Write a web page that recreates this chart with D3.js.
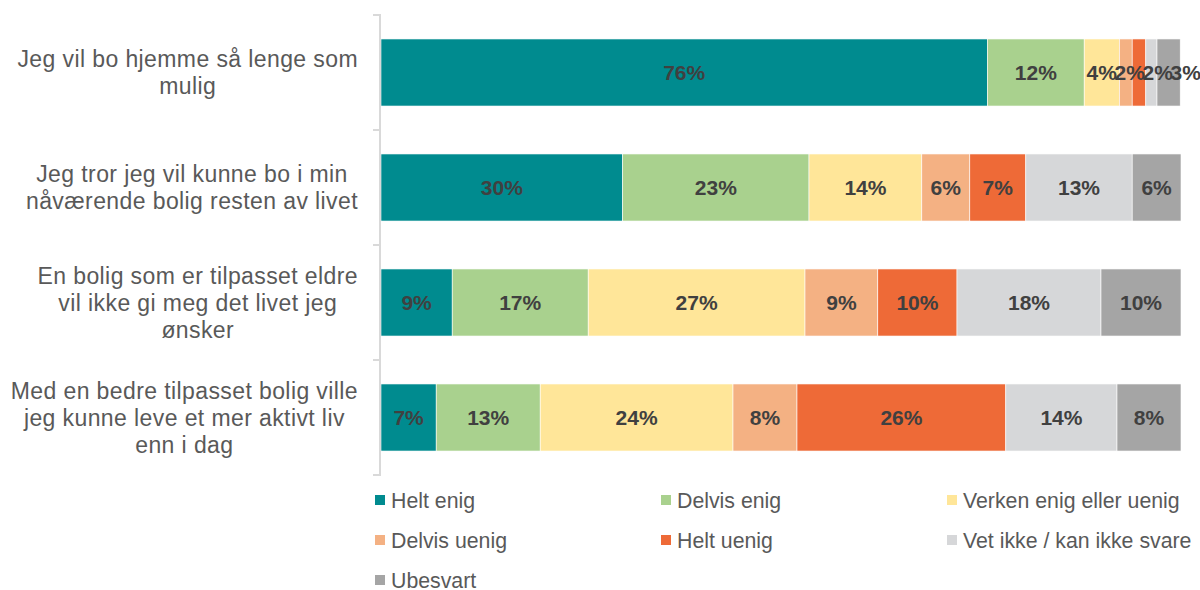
<!DOCTYPE html>
<html>
<head>
<meta charset="utf-8">
<script src="https://cdn.jsdelivr.net/npm/d3@7"></script>
<style>
  body { margin: 0; background: #fff; }
  text { font-family: "Liberation Sans", Arial, sans-serif; }
</style>
</head>
<body>
<div id="root"></div>
<script>
// categories (top to bottom), line breaks as in the source chart
var categories = [
  "Jeg vil bo hjemme så lenge som\nmulig",
  "Jeg tror jeg vil kunne bo i min\nnåværende bolig resten av livet",
  "En bolig som er tilpasset eldre\nvil ikke gi meg det livet jeg\nønsker",
  "Med en bedre tilpasset bolig ville\njeg kunne leve et mer aktivt liv\nenn i dag"
];

var seriesNames = ["Helt enig", "Delvis enig", "Verken enig eller uenig", "Delvis uenig",
  "Helt uenig", "Vet ikke / kan ikke svare", "Ubesvart"];

var seriesColors = ["#008B8F", "#A9D18E", "#FFE699", "#F4B183", "#EE6A37", "#D6D7D9", "#A5A5A5"];

// percent per category, one array per series
var heltEnig    = [75.8, 30.2, 8.9, 6.9];
var delvisEnig  = [12.1, 23.3, 17.0, 13.0];
var verken      = [4.4, 14.1, 27.1, 24.1];
var delvisUenig = [1.6, 6.0, 9.1, 8.0];
var heltUenig   = [1.7, 7.0, 9.9, 26.1];
var vetIkke     = [1.4, 13.3, 18.0, 13.9];
var ubesvart    = [2.9, 6.1, 10.0, 8.0];

var seriesValues = [heltEnig, delvisEnig, verken, delvisUenig, heltUenig, vetIkke, ubesvart];

var width = 1200, height = 590;
var x0 = 381, x1 = 1181, yTop = 15, yBottom = 475;

var svg = d3.select("#root").append("svg")
  .attr("width", width)
  .attr("height", height);

var x = d3.scaleLinear().domain([0, 100]).range([x0, x1]);

var y = d3.scaleBand()
  .domain(categories)
  .range([yTop, yBottom])
  .paddingInner(0.417)
  .paddingOuter(0.2085);

// build stacked table
var table = categories.map(function(c, i) {
  var row = { key: c };
  seriesNames.forEach(function(s, j) { row[s] = seriesValues[j][i]; });
  return row;
});
var stacked = d3.stack().keys(seriesNames)(table);

var layers = svg.selectAll(".layer")
  .data(stacked)
  .enter()
  .append("g")
  .attr("class", "layer")
  .attr("fill", function(d, i) { return seriesColors[i]; });

layers.selectAll("rect")
  .data(function(d) { return d; })
  .enter()
  .append("rect")
  .attr("x", function(d) { return x(d[0]); })
  .attr("y", function(d) { return y(d.data.key); })
  .attr("width", function(d) { return x(d[1]) - x(d[0]); })
  .attr("height", y.bandwidth())
  .attr("stroke", "#fff")
  .attr("stroke-width", 0.6);

// value labels, small ones (<1.5) hidden, pushed apart when crowded
var labelW = 28;
categories.forEach(function(c, i) {
  var items = [];
  stacked.forEach(function(layer) {
    var d = layer[i];
    var v = d[1] - d[0];
    if (v >= 1.5) items.push({ cx: (x(d[0]) + x(d[1])) / 2, text: Math.round(v) + "%" });
  });
  var prev = -Infinity;
  items.forEach(function(it) {
    it.cx = Math.max(it.cx, prev + labelW);
    prev = it.cx;
  });
  svg.selectAll(null)
    .data(items)
    .enter()
    .append("text")
    .attr("x", function(d) { return d.cx; })
    .attr("y", y(c) + y.bandwidth() / 2)
    .attr("dy", "0.36em")
    .attr("text-anchor", "middle")
    .attr("font-size", "21px")
    .attr("font-weight", "bold")
    .attr("fill", "#404040")
    .text(function(d) { return d.text; });
});

// axis line with ticks on the left
svg.append("line")
  .attr("x1", 380).attr("x2", 380)
  .attr("y1", yTop).attr("y2", yBottom)
  .attr("stroke", "#D9D9D9")
  .attr("stroke-width", 2);

var tickYs = categories.map(function(c) { return y(c) - y.step() * y.paddingInner() / 2; });
tickYs.push(yBottom);
svg.selectAll(".tick")
  .data(tickYs)
  .enter()
  .append("line")
  .attr("class", "tick")
  .attr("x1", 373).attr("x2", 381)
  .attr("y1", function(d) { return d; })
  .attr("y2", function(d) { return d; })
  .attr("stroke", "#D9D9D9")
  .attr("stroke-width", 2);

// category labels, lines centred inside a block that is right-aligned to the axis
var lh = 27;
categories.forEach(function(c) {
  var g = svg.append("g");
  var lines = c.split("\n");
  var texts = g.selectAll("text")
    .data(lines)
    .enter()
    .append("text")
    .attr("font-size", "23px")
    .attr("letter-spacing", "0.4px")
    .attr("fill", "#595959")
    .attr("text-anchor", "middle")
    .attr("dy", "0.36em")
    .text(function(d) { return d; });
  var maxW = 0;
  texts.each(function() { maxW = Math.max(maxW, this.getComputedTextLength()); });
  var cy = y(c) + y.bandwidth() / 2;
  texts
    .attr("x", 358 - maxW / 2)
    .attr("y", function(d, i) { return cy + (i - (lines.length - 1) / 2) * lh; });
});

// legend
var legend = svg.selectAll(".legend")
  .data(seriesNames)
  .enter()
  .append("g")
  .attr("class", "legend")
  .attr("transform", function(d, i) {
    return "translate(" + (375 + (i % 3) * 286) + "," + (500 + Math.floor(i / 3) * 40) + ")";
  });

legend.append("rect")
  .attr("x", 0)
  .attr("y", -5)
  .attr("width", 10)
  .attr("height", 10)
  .attr("fill", function(d, i) { return seriesColors[i]; });

legend.append("text")
  .attr("x", 16)
  .attr("y", 0)
  .attr("dy", "0.36em")
  .attr("font-size", "21.3px")
  .attr("fill", "#595959")
  .text(function(d) { return d; });
</script>
</body>
</html>
